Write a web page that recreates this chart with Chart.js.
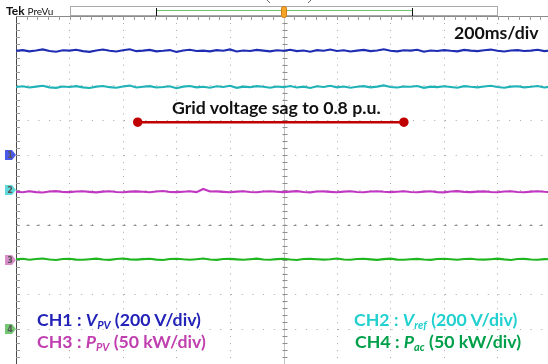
<!DOCTYPE html>
<html>
<head>
<meta charset="utf-8">
<script src="https://cdn.jsdelivr.net/npm/chart.js@4.4.1/dist/chart.umd.min.js"></script>
<style>
  html, body { margin: 0; padding: 0; background: #fff; overflow: hidden; }
  #wrap { position: relative; width: 548px; height: 364px; overflow: hidden; }
  #scope { position: absolute; left: 0; top: 0; }
  .lbl { position: absolute; font-family: Lato, "Open Sans", sans-serif; font-weight: bold; white-space: nowrap; line-height: 1; }
  .lbl i { font-style: italic; }
  .lbl sub { font-size: 0.62em; font-style: italic; vertical-align: -0.3em; }
</style>
</head>
<body>
<div id="wrap">
  <canvas id="scope" width="551" height="364"></canvas>
  <div class="lbl" style="left:6px; top:5px; font-size:12px; color:#111;">Tek <span style="font-weight:normal; font-size:10px;">PreVu</span></div>
  <div class="lbl" style="left:454px; top:24px; font-size:17.7px; color:#111;">200ms/div</div>
  <div class="lbl" style="left:172px; top:99px; font-size:17.7px; color:#111;">Grid voltage sag to 0.8 p.u.</div>
  <div class="lbl" style="left:37px; top:311px; font-size:17.7px; color:#2323b8;">CH1 : <i>V</i><sub>PV</sub> (200 V/div)</div>
  <div class="lbl" style="left:37px; top:333px; font-size:17.7px; color:#c040b0;">CH3 : <i>P</i><sub>PV</sub> (50 kW/div)</div>
  <div class="lbl" style="left:354px; top:311px; font-size:17.7px; color:#22d0d0;">CH2 : <i>V</i><sub>ref</sub> (200 V/div)</div>
  <div class="lbl" style="left:355px; top:333px; font-size:17.7px; color:#00a04a;">CH4 : <i>P</i><sub>ac</sub> (50 kW/div)</div>
</div>
<script>
// sample instants of the record (ms)
const timeMs = [
  0, 25, 50, 75, 100, 125, 150, 175, 200, 225,
  250, 275, 300, 325, 350, 375, 400, 425, 450, 475,
  500, 525, 550, 575, 600, 625, 650, 675, 700, 725,
  750, 775, 800, 825, 850, 875, 900, 925, 950, 975,
  1000, 1025, 1050, 1075, 1100, 1125, 1150, 1175, 1200, 1225,
  1250, 1275, 1300, 1325, 1350, 1375, 1400, 1425, 1450, 1475,
  1500, 1525, 1550, 1575, 1600, 1625, 1650, 1675, 1700, 1725,
  1750, 1775, 1800, 1825, 1850, 1875, 1900, 1925, 1950, 1975,
  2000
];

// CH1 : V_PV (V)
const ch1Vpv = [
  600, 604, 597, 602, 608, 599, 595, 603, 601, 606,
  598, 594, 602, 607, 600, 596, 603, 609, 598, 601,
  605, 597, 600, 604, 593, 602, 606, 599, 601, 597,
  604, 600, 608, 596, 602, 599, 605, 601, 597, 603,
  600, 606, 598, 602, 595, 604, 600, 607, 599, 603,
  596, 601, 605, 598, 602, 609, 600, 597, 603, 601,
  606, 595, 602, 599, 604, 600, 597, 605, 601, 598,
  603, 607, 600, 596, 602, 604, 599, 601, 606, 598,
  602
];

// CH2 : V_ref (V)
const ch2Vref = [
  592, 596, 589, 594, 599, 590, 587, 595, 592, 597,
  590, 586, 594, 598, 591, 588, 595, 600, 589, 593,
  597, 589, 592, 596, 585, 594, 598, 590, 593, 588,
  596, 592, 599, 587, 594, 591, 597, 593, 588, 595,
  591, 598, 589, 594, 586, 596, 592, 599, 590, 595,
  588, 593, 597, 590, 594, 601, 592, 589, 595, 593,
  598, 587, 594, 591, 596, 592, 588, 597, 593, 590,
  595, 599, 592, 588, 594, 596, 590, 593, 598, 589,
  594
];

// CH3 : P_PV (kW)
const ch3Ppv = [
  97.5, 96.8, 98.2, 97.0, 96.5, 97.9, 98.4, 97.2, 96.9, 97.8,
  98.1, 97.3, 96.6, 97.7, 98.3, 97.1, 96.8, 97.6, 98.0, 97.4,
  96.7, 97.9, 98.5, 97.2, 96.9, 97.5, 98.2, 97.0, 101.5, 97.8,
  98.0, 97.3, 96.8, 97.6, 98.3, 97.1, 96.7, 97.9, 98.1, 97.4,
  96.9, 97.7, 98.4, 97.2, 96.6, 97.8, 98.0, 97.3, 96.8, 97.6,
  98.2, 97.1, 96.7, 97.9, 98.3, 97.4, 96.9, 97.5, 98.1, 97.2,
  96.8, 97.7, 98.2, 97.0, 96.6, 97.9, 98.4, 97.3, 96.9, 97.6,
  98.0, 97.2, 96.7, 97.8, 98.3, 97.1, 96.8, 97.6, 98.1, 97.4,
  97.0
];

// CH4 : P_ac (kW)
const ch4Pac = [
  100.5, 101.2, 99.8, 100.9, 101.6, 100.2, 99.5, 100.8, 101.3, 100.0,
  99.7, 100.6, 101.4, 100.1, 99.6, 100.9, 101.5, 100.3, 99.9, 100.7,
  101.2, 100.0, 99.4, 100.8, 101.3, 100.4, 99.8, 100.6, 101.5, 100.2,
  99.6, 100.9, 101.1, 100.3, 99.7, 100.5, 101.4, 100.1, 99.8, 100.7,
  101.3, 100.2, 99.5, 100.8, 101.0, 100.4, 99.9, 100.6, 101.6, 100.1,
  99.7, 100.9, 101.2, 100.3, 99.6, 100.7, 101.4, 100.0, 99.8, 100.5,
  101.1, 100.2, 99.6, 100.9, 101.3, 100.4, 99.7, 100.8, 101.2, 100.1,
  99.9, 100.6, 101.4, 100.3, 99.5, 100.8, 101.0, 100.2, 99.8, 100.7,
  100.4
];

// sag window marked on the screen (ms)
const sagTimes = [455, 1450];

// channel settings: scale per division and ground reference (div from bottom)
const channels = [
  { values: ch1Vpv, perDiv: 200, ref: 6, color: '#1f2db3', marker: '#4b5ae6', num: '1' },
  { values: ch2Vref, perDiv: 200, ref: 5, color: '#1fb3b8', marker: '#5fd9d9', num: '2' },
  { values: ch3Ppv, perDiv: 50, ref: 3, color: '#c038c0', marker: '#d98fcb', num: '3' },
  { values: ch4Pac, perDiv: 50, ref: 1, color: '#1fb51f', marker: '#74c874', num: '4' }
];

function toDivs(ch) {
  return ch.values.map((v, i) => ({ x: timeMs[i], y: ch.ref + v / ch.perDiv }));
}

const traces = channels.map(ch => ({
  data: toDivs(ch),
  borderColor: ch.color,
  borderWidth: 2.1,
  pointRadius: 0,
  tension: 0
}));

// annotation line sits just under the 7th division line
traces.push({
  data: sagTimes.map(t => ({ x: t, y: 6.95 })),
  borderColor: '#c00000',
  backgroundColor: '#c00000',
  borderWidth: 2.5,
  pointRadius: 3.5,
  pointHoverRadius: 3.5
});

// graticule extras, ground markers and record bar
const scopeDecor = {
  id: 'scopeDecor',
  beforeDatasetsDraw(chart) {
    const { ctx, chartArea: a, scales: { x, y } } = chart;
    const xDiv = (a.right - a.left) / 10;
    const yDiv = (a.bottom - a.top) / 10;
    ctx.save();
    ctx.lineWidth = 1;

    // top border
    ctx.strokeStyle = '#8a8a8a';
    ctx.beginPath();
    ctx.moveTo(a.left, Math.round(a.top) + 0.5);
    ctx.lineTo(a.right, Math.round(a.top) + 0.5);
    ctx.stroke();

    // minor ticks on top and left border
    ctx.strokeStyle = '#9a9a9a';
    ctx.beginPath();
    for (let k = 1; k < 50; k++) {
      const px = Math.round(a.left + k * xDiv / 5) + 0.5;
      ctx.moveTo(px, a.top);
      ctx.lineTo(px, a.top + 4);
    }
    for (let k = 1; k < 50; k++) {
      const py = Math.round(a.top + k * yDiv / 5) + 0.5;
      ctx.moveTo(a.left, py);
      ctx.lineTo(a.left + 4, py);
    }
    ctx.stroke();

    // centre vertical line with ticks
    const cx = Math.round(x.getPixelForValue(1000)) + 0.5;
    ctx.strokeStyle = '#c4c4c4';
    ctx.beginPath();
    ctx.moveTo(cx, a.top);
    ctx.lineTo(cx, a.bottom);
    ctx.stroke();
    ctx.strokeStyle = '#8f8f8f';
    ctx.beginPath();
    for (let k = 1; k < 50; k++) {
      const py = Math.round(a.top + k * yDiv / 5) + 0.5;
      ctx.moveTo(cx - 2, py);
      ctx.lineTo(cx + 3, py);
    }
    ctx.stroke();

    // centre horizontal line ticks
    const cy = Math.round(y.getPixelForValue(4)) + 0.5;
    ctx.beginPath();
    for (let k = 1; k < 50; k++) {
      const px = Math.round(a.left + k * xDiv / 5) + 0.5;
      ctx.moveTo(px - 1, cy);
      ctx.lineTo(px + 2, cy);
    }
    ctx.stroke();
    ctx.restore();
  },
  afterDraw(chart) {
    const { ctx, scales: { y } } = chart;
    ctx.save();

    // ground markers
    channels.forEach(ch => {
      const py = Math.round(y.getPixelForValue(ch.ref));
      ctx.fillStyle = ch.marker;
      ctx.strokeStyle = '#666';
      ctx.lineWidth = 0.6;
      ctx.beginPath();
      ctx.moveTo(5, py - 5);
      ctx.lineTo(12, py - 5);
      ctx.lineTo(16, py);
      ctx.lineTo(12, py + 5);
      ctx.lineTo(5, py + 5);
      ctx.closePath();
      ctx.fill();
      ctx.fillStyle = '#555';
      ctx.font = 'bold 8px "DejaVu Sans", sans-serif';
      ctx.textAlign = 'center';
      ctx.textBaseline = 'middle';
      ctx.fillText(ch.num, 10, py + 0.5);
    });

    // record bar
    ctx.lineWidth = 1;
    ctx.strokeStyle = '#a8a8a8';
    ctx.strokeRect(70.5, 6.5, 427, 9);
    ctx.strokeStyle = '#6cc46c';
    ctx.beginPath();
    ctx.moveTo(157, 10.5);
    ctx.lineTo(412, 10.5);
    ctx.stroke();
    ctx.strokeStyle = '#111';
    ctx.beginPath();
    ctx.moveTo(156.5, 8);
    ctx.lineTo(156.5, 16);
    ctx.moveTo(412.5, 8);
    ctx.lineTo(412.5, 16);
    ctx.stroke();

    // trigger position marker
    ctx.fillStyle = '#f4a428';
    ctx.strokeStyle = '#d07f10';
    ctx.beginPath();
    ctx.roundRect(281.5, 6.5, 5, 11, 2);
    ctx.fill();
    ctx.stroke();
    ctx.strokeStyle = '#666';
    ctx.beginPath();
    ctx.moveTo(267, 0);
    ctx.lineTo(270, 3);
    ctx.moveTo(311, 0);
    ctx.lineTo(308, 3);
    ctx.stroke();
    ctx.restore();
  }
};

new Chart(document.getElementById('scope'), {
  type: 'line',
  data: { datasets: traces },
  options: {
    responsive: false,
    animation: false,
    devicePixelRatio: 1,
    layout: { autoPadding: false, padding: { left: 16, top: 16, right: 0, bottom: 0 } },
    plugins: { legend: { display: false }, tooltip: { enabled: false } },
    scales: {
      x: {
        type: 'linear',
        min: 0,
        max: 2000,
        ticks: { display: false, stepSize: 200 },
        grid: { color: '#a6a6a6', drawTicks: false },
        border: { display: false, dash: [1, 5.96] }
      },
      y: {
        type: 'linear',
        min: 0,
        max: 10,
        ticks: { display: false, stepSize: 1 },
        grid: { color: '#a6a6a6', drawTicks: false },
        border: { display: true, color: '#4a4a4a', width: 1, dash: [1, 9.7] }
      }
    }
  },
  plugins: [scopeDecor]
});
</script>
</body>
</html>
